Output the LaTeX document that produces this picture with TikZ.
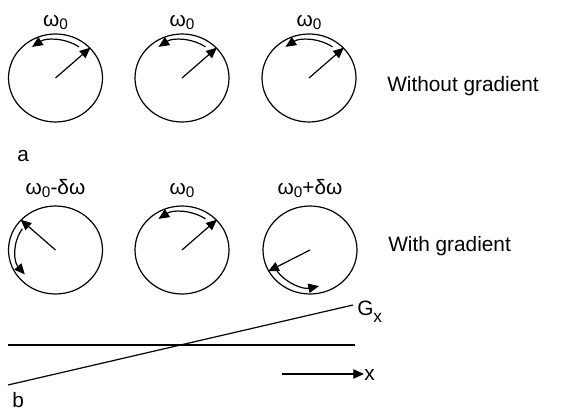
\documentclass[tikz,border=0pt]{standalone}
\usepackage{fontspec}
\setmainfont{Liberation Sans}
\usetikzlibrary{shapes.geometric,arrows.meta}
\newcommand{\mysub}[1]{\raisebox{-1.6pt}{\fontsize{11.5}{12}\selectfont #1}}
\newcommand{\mysubx}[1]{\raisebox{-5.5pt}{\fontsize{13}{14}\selectfont #1}}
\begin{document}
\begin{tikzpicture}[x=0.75pt,y=0.75pt,
  disk/.style={draw, ellipse, line width=0.9pt, minimum width=70.5pt, minimum height=66pt, inner sep=0pt},
  arr/.style={line width=0.9pt, -{Triangle[length=8pt,width=7pt]}},
  plain/.style={line width=0.9pt},
  lbl/.style={font=\fontsize{15.6}{18}\selectfont, inner sep=0pt, anchor=base},
  side/.style={font=\fontsize{15.6}{18}\selectfont, inner sep=0pt, anchor=base west}]
\useasboundingbox (0,0) rectangle (573,410);

% top row
\node[disk] (t1) at (55.5,332) {};
\node[disk] (t2) at (182,332) {};
\node[disk] (t3) at (309,332) {};
\foreach \c in {t1,t2,t3}{
  \draw[arr] (\c.center) -- (\c.41);
  \draw[arr] ([shift={(55:41 and 38)}]\c.center) arc[start angle=55, end angle=125, x radius=41, y radius=38];
}
\node[lbl] (lt1) at (55.5,383) {ω\mysub{0}};
\node[lbl] (lt2) at (182,383) {ω\mysub{0}};
\node[lbl] (lt3) at (309,383) {ω\mysub{0}};
\node[side] (wo) at (387,318) {Without gradient};
\node[side] (la) at (17,248) {a};

% bottom row
\node[disk] (b1) at (55.5,160) {};
\node[disk] (b2) at (182,160) {};
\node[disk] (b3) at (310,160) {};
\draw[arr] (b1.center) -- (b1.139);
\draw[arr] ([shift={(146:40 and 38)}]b1.center) arc[start angle=146, end angle=220, x radius=40, y radius=38];
\draw[arr] (b2.center) -- (b2.41);
\draw[arr] ([shift={(55:41 and 38)}]b2.center) arc[start angle=55, end angle=125, x radius=41, y radius=38];
\draw[arr] (b3.center) -- (b3.207);
\draw[arr] ([shift={(213:40 and 37)}]b3.center) arc[start angle=213, end angle=283, x radius=40, y radius=37];
\node[lbl] (lb1) at (55.5,215) {ω\mysub{0}-δω};
\node[lbl] (lb2) at (182,215) {ω\mysub{0}};
\node[lbl] (lb3) at (310,215) {ω\mysub{0}+δω};
\node[side] (wi) at (388,158) {With gradient};

% gradient
\coordinate (h1) at (8,65);
\coordinate (h2) at (355,65);
\draw[plain] (h1) -- (h2);
\coordinate (g1) at (8,25);
\coordinate (g2) at (353,105);
\draw[plain] (g1) -- (g2);
\node[side] (gx) at (357,95) {G\mysubx{x}};
\coordinate (x1) at (282,36);
\node[side] (xl) at (364,30) {x};
\draw[arr] (x1) -- (xl.west |- x1);
\node[side] (lbb) at (12,3) {b};
\end{tikzpicture}
\end{document}
